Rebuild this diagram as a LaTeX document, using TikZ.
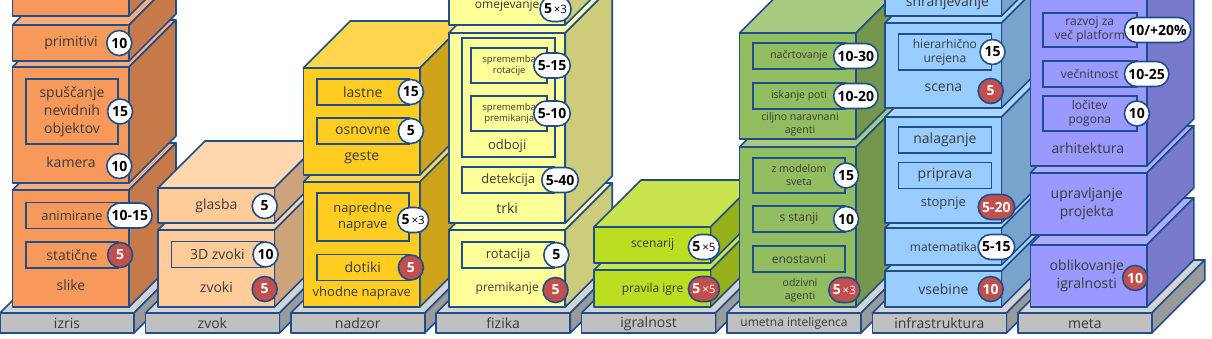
\documentclass[tikz,border=0pt]{standalone}
\usepackage{fontspec}
\setmainfont{Open Sans}
\usetikzlibrary{positioning}
\definecolor{cline}{HTML}{1F4E8C}
\definecolor{ctext}{HTML}{3A3A3A}
\definecolor{cbadge}{HTML}{C0504D}
\definecolor{cbase}{HTML}{C0C0C0}
\definecolor{cizris}{HTML}{F8995C}
\definecolor{czvok}{HTML}{FFCC99}
\definecolor{cnadzor}{HTML}{FFCC22}
\definecolor{cfizika}{HTML}{FFFF99}
\definecolor{cigra}{HTML}{BBDD22}
\definecolor{cum}{HTML}{92BD60}
\definecolor{cinfra}{HTML}{99CCFF}
\definecolor{cmeta}{HTML}{9999FF}
\newcommand{\fsa}{\fontsize{14}{18}\selectfont}
\newcommand{\fsb}{\fontsize{13}{16}\selectfont}
\newcommand{\fsc}{\fontsize{12}{14}\selectfont}
\newcommand{\fsd}{\fontsize{10.5}{13}\selectfont}
\newcommand{\fse}{\fontsize{9.5}{11}\selectfont}
\newcommand{\xtimes}[1]{{\mdseries\fontsize{11.5}{11.5}\selectfont\,×#1}}
\tikzset{
  face/.style={draw=cline, line width=1.6, line join=round},
  lbl/.style={text=ctext, align=center, inner sep=0, font=\fsa},
  sub/.style={lbl, draw=cline, line width=1.6, minimum width=92, minimum height=26},
  badge/.style={draw=cline, line width=1.6, rounded corners=12.5, minimum width=25, minimum height=25, inner xsep=4, inner ysep=0, anchor=west, font=\bfseries\fsa},
  wb/.style={badge, fill=white, text=black},
  rb/.style={badge, fill=cbadge, text=white},
}
% one block of a column: top, bottom, colour
\newcommand{\slab}[3]{%
  \filldraw[face, fill=#3!80!white] (12.5,#1) -- ++(47,-47) -- ++(116.5,0) -- ++(-47,47) -- cycle;
  \filldraw[face, fill=#3!80!black] (129,#1) -- ++(47,-47) -- (176,{#2-47}) -- (129,#2) -- cycle;
  \filldraw[face, fill=#3] (12.5,#1) rectangle (129,#2);
}
% grey plate under a column
\newcommand{\baseplate}[2]{%
  \filldraw[face, fill=cbase!70!white] (0,313) -- ++(53,-53) -- ++(134,0) -- ++(-53,53) -- cycle;
  \filldraw[face, fill=cbase!80!black] (134,313) -- ++(53,-53) -- ++(0,20) -- ++(-53,53) -- cycle;
  \filldraw[face, fill=cbase] (0,313) rectangle (134,333);
  \node[lbl] (#1) at (67,323.5) {#2};
}

\begin{document}
\begin{tikzpicture}[x=1pt, y=-1pt]
  \useasboundingbox (0,0) rectangle (1212,338);
  \clip (0,0) rectangle (1212,338);
  \foreach \i/\t in {0/izris, 1/zvok, 2/nadzor, 3/fizika, 4/igralnost, 5/{\fsc umetna inteligenca}, 6/infrastruktura, 7/meta}
    {\begin{scope}[xshift=\i*145.4pt] \baseplate{base\i}{\t} \end{scope}}
  % izris
  \begin{scope}
    \slab{190}{307}{cizris}
    \node[sub, font=\fsb] (anim) at (72,215.5) {animirane};
    \node[wb, right=-12pt of anim] (animb) {10-15};
    \node[sub] (stat) at (72,255) {statične};
    \node[rb, right=-12pt of stat] (statb) {5};
    \node[lbl] (slike) at (71,285) {slike};
    \slab{67}{183}{cizris}
    \node[sub, minimum height=65] (spusc) at (72,111.5) {spuščanje\\nevidnih\\objektov};
    \node[wb, right=-12pt of spusc] (spuscb) {15};
    \node[lbl] (kamera) at (71,162) {kamera};
    \node[wb] (kamerab) at (106,166) {10};
    \slab{25}{61}{cizris}
    \node[lbl] (prim) at (71,43) {primitivi};
    \node[wb] (primb) at (106,43) {10};
    \slab{-20}{16}{cizris}
  \end{scope}
  % zvok
  \begin{scope}[xshift=145.4pt]
    \slab{230}{307}{czvok}
    \node[sub] (zv3d) at (72,254.5) {3D zvoki};
    \node[wb, right=-12pt of zv3d] (zv3db) {10};
    \node[lbl] (zvoki) at (71,287) {zvoki};
    \node[rb] (zvokib) at (106,289) {5};
    \slab{188}{223}{czvok}
    \node[lbl] (glasba) at (71,206) {glasba};
    \node[wb] (glasbab) at (106,206) {5};
  \end{scope}
  % nadzor
  \begin{scope}[xshift=290.8pt]
    \slab{182}{307}{cnadzor}
    \node[sub, font=\fsb, minimum height=48] (napr) at (72,217) {napredne\\naprave};
    \node[wb] (naprb) at (106,220) {5\xtimes{3}};
    \node[sub] (dot) at (72,267.5) {dotiki};
    \node[rb, right=-12pt of dot] (dotb) {5};
    \node[lbl, font=\fsb] (vhod) at (71,293) {vhodne naprave};
    \slab{68}{175}{cnadzor}
    \node[sub] (last) at (72,92) {lastne};
    \node[wb, right=-12pt of last] (lastb) {15};
    \node[sub] (osn) at (72,131) {osnovne};
    \node[wb, right=-12pt of osn] (osnb) {5};
    \node[lbl] (geste) at (71,158) {geste};
  \end{scope}
  % fizika
  \begin{scope}[xshift=436.2pt]
    \slab{230}{307}{cfizika}
    \node[sub, font=\fsb] (rot) at (72,255) {rotacija};
    \node[wb, right=-12pt of rot] (rotb) {5};
    \node[lbl, font=\fsc] (prem) at (71,288) {premikanje};
    \node[rb] (premb) at (106,290) {5};
    \slab{33}{223}{cfizika}
    \node[sub, minimum width=93, minimum height=119] (odb) at (72.5,97.5) {};
    \node[sub, font=\fse, minimum width=76, minimum height=35] (sprot) at (73,65.5) {sprememba\\rotacije};
    \node[wb, right=-15pt of sprot] (sprotb) {5-15};
    \node[sub, font=\fse, minimum width=76, minimum height=35] (sprem) at (73,113.5) {sprememba\\premikanja};
    \node[wb, right=-15pt of sprem] (spremb) {5-10};
    \node[lbl, font=\fsb] (odbl) at (71,146) {odboji};
    \node[sub, font=\fsb] (det) at (72,180) {detekcija};
    \node[wb, right=-14pt of det] (detb) {5-40};
    \node[lbl] (trki) at (71,208) {trki};
    \slab{-20}{25}{cfizika}
    \node[lbl, font=\fsc] (omej) at (71,6) {omejevanje};
    \node[wb] (omejb) at (103,9) {5\xtimes{3}};
  \end{scope}
  % igralnost
  \begin{scope}[xshift=581.6pt]
    \slab{270}{307}{cigra}
    \node[lbl, font=\fsc] (prav) at (71,289) {pravila igre};
    \node[rb] (pravb) at (106,289) {5\xtimes{5}};
    \slab{227}{263}{cigra}
    \node[lbl, font=\fsc] (scen) at (71,245) {scenarij};
    \node[wb] (scenb) at (106,247) {5\xtimes{5}};
  \end{scope}
  % umetna inteligenca
  \begin{scope}[xshift=727pt]
    \slab{147}{307}{cum}
    \node[sub, font=\fsd, minimum height=35] (zmod) at (72,175.5) {z modelom\\sveta};
    \node[wb, right=-13pt of zmod] (zmodb) {15};
    \node[sub, font=\fsc] (sst) at (72,219) {s stanji};
    \node[wb, right=-13pt of sst] (sstb) {10};
    \node[sub, font=\fsc] (enost) at (72,259) {enostavni};
    \node[lbl, font=\fsd] (odz) at (73,290) {odzivni\\agenti};
    \node[rb] (odzb) at (101,290) {5\xtimes{3}};
    \slab{33}{139}{cum}
    \node[sub, font=\fsd] (nacrt) at (72,56) {načrtovanje};
    \node[wb, right=-13pt of nacrt] (nacrtb) {10-30};
    \node[sub, font=\fsd] (isk) at (72,96) {iskanje poti};
    \node[wb, right=-13pt of isk] (iskb) {10-20};
    \node[lbl, font=\fsd] (cilj) at (73,124.5) {ciljno naravnani\\agenti};
  \end{scope}
  % infrastruktura
  \begin{scope}[xshift=872.4pt]
    \slab{271}{307}{cinfra}
    \node[lbl] (vseb) at (71,289) {vsebine};
    \node[rb] (vsebb) at (105,289) {10};
    \slab{228}{265}{cinfra}
    \node[lbl, font=\fsc] (mat) at (71,247) {matematika};
    \node[wb] (matb) at (105,247) {5-15};
    \slab{117}{223}{cinfra}
    \node[sub, minimum width=93] (nal) at (72.5,140) {nalaganje};
    \node[sub, minimum width=93] (pripr) at (72.5,175.5) {priprava};
    \node[lbl, font=\fsb] (stop) at (71,203) {stopnje};
    \node[rb] (stopb) at (105,207) {5-20};
    \slab{23}{108}{cinfra}
    \node[sub, font=\fsc, minimum width=93, minimum height=36] (hier) at (72.5,52) {hierarhično\\urejena};
    \node[wb, right=-13pt of hier] (hierb) {15};
    \node[lbl] (scena) at (71,88) {scena};
    \node[rb] (scenab) at (105,91) {5};
    \slab{-20}{16}{cinfra}
    \node[lbl] (shr) at (75,3) {shranjevanje};
  \end{scope}
  % meta
  \begin{scope}[xshift=1017.8pt]
    \slab{245}{307}{cmeta}
    \node[lbl] (oblik) at (69,276) {oblikovanje\\igralnosti};
    \node[rb] (oblikb) at (104,278) {10};
    \slab{173}{235}{cmeta}
    \node[lbl] (uprav) at (69,204) {upravljanje\\projekta};
    \slab{-20}{166}{cmeta}
    \node[sub, font=\fsc, minimum width=94, minimum height=34] (razv) at (72,30) {razvoj za\\več platform};
    \node[wb, right=-14pt of razv] (razvb) {10/+20\%};
    \node[sub, font=\fsc, minimum width=94] (vecn) at (72,74) {večnitnost};
    \node[wb, right=-14pt of vecn] (vecnb) {10-25};
    \node[sub, font=\fsc, minimum width=94, minimum height=35] (loc) at (72,113.5) {ločitev\\pogona};
    \node[wb, right=-14pt of loc] (locb) {10};
    \node[lbl] (arh) at (70,148) {arhitektura};
  \end{scope}
\end{tikzpicture}
\end{document}
